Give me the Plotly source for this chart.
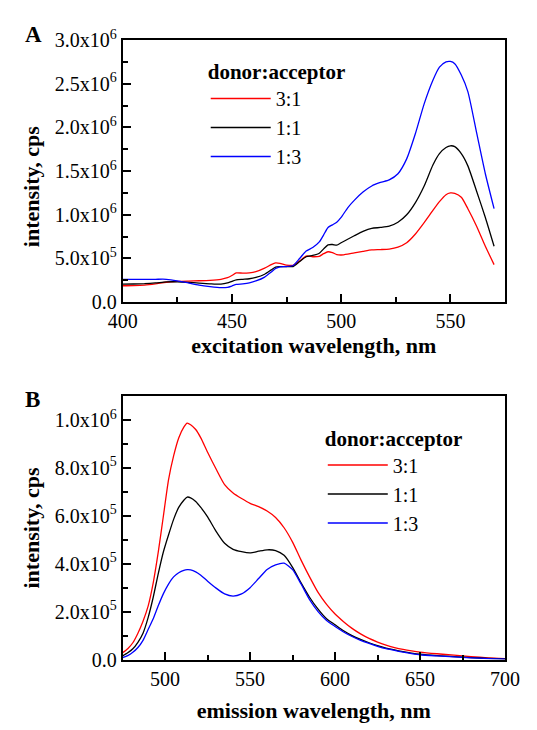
import plotly.graph_objects as go

# ---------------- Panel A: excitation spectra ----------------
wl_exc = [400, 405, 410, 415, 420, 425, 430, 435, 440, 445, 448, 450, 452, 455, 458, 461,
          465, 468, 470, 472, 475, 478, 481, 484, 487, 490, 492, 494, 496, 498, 500, 503,
          506, 510, 514, 518, 522, 526, 530, 534, 538, 542, 545, 548, 550, 552, 555, 558,
          562, 566, 570]

exc_3to1 = [0.188, 0.19, 0.196, 0.21, 0.228, 0.238, 0.242, 0.245, 0.25, 0.262, 0.28, 0.305,
            0.335, 0.332, 0.336, 0.35, 0.39, 0.43, 0.45, 0.445, 0.425, 0.422, 0.47, 0.528,
            0.52, 0.525, 0.555, 0.577, 0.567, 0.545, 0.54, 0.55, 0.565, 0.582, 0.598, 0.602,
            0.608, 0.63, 0.68, 0.78, 0.91, 1.05, 1.15, 1.23, 1.25, 1.245, 1.2, 1.07, 0.87,
            0.64, 0.43]  # x1e6 cps

exc_1to1 = [0.206, 0.208, 0.212, 0.22, 0.232, 0.233, 0.227, 0.218, 0.21, 0.206, 0.22, 0.239,
            0.256, 0.262, 0.268, 0.283, 0.32, 0.37, 0.402, 0.407, 0.408, 0.408, 0.465, 0.52,
            0.535, 0.56, 0.61, 0.656, 0.66, 0.652, 0.68, 0.72, 0.76, 0.81, 0.845, 0.855,
            0.87, 0.915, 1.0, 1.14, 1.33, 1.57, 1.7, 1.77, 1.79, 1.78, 1.7, 1.56, 1.27,
            0.97, 0.64]

exc_1to3 = [0.262, 0.262, 0.262, 0.262, 0.262, 0.245, 0.22, 0.195, 0.178, 0.166, 0.17, 0.185,
            0.203, 0.21, 0.222, 0.243, 0.287, 0.345, 0.385, 0.405, 0.408, 0.42, 0.5, 0.585,
            0.625, 0.69, 0.77, 0.855, 0.885, 0.915, 0.97, 1.08, 1.165, 1.26, 1.33, 1.37,
            1.4, 1.47, 1.64, 1.93, 2.27, 2.54, 2.69, 2.75, 2.755, 2.73, 2.6, 2.41, 1.94,
            1.47, 1.07]

# ---------------- Panel B: emission spectra ----------------
wl_em = [475, 478, 481, 484, 487, 490, 493, 496, 499, 502, 505, 508, 511, 513, 515, 518, 521,
         525, 530, 535, 540, 545, 550, 555, 560, 565, 570, 575, 580, 585, 590, 595, 600, 605,
         610, 615, 620, 625, 630, 635, 640, 645, 650, 660, 670, 680, 690, 700]

em_3to1 = [0.28, 0.45, 0.7, 1.1, 1.6, 2.23, 3.2, 4.5, 6.0, 7.5, 8.5, 9.25, 9.7, 9.87, 9.8,
           9.6, 9.25, 8.65, 7.95, 7.3, 6.95, 6.72, 6.52, 6.38, 6.2, 5.93, 5.5, 4.9, 4.15,
           3.45, 2.8, 2.3, 1.9, 1.58, 1.3, 1.07, 0.88, 0.73, 0.6, 0.5, 0.42, 0.36, 0.31,
           0.24, 0.18, 0.12, 0.07, 0.04]  # x1e5 cps

em_1to1 = [0.15, 0.28, 0.45, 0.72, 1.1, 1.75, 2.6, 3.6, 4.5, 5.2, 5.85, 6.35, 6.65, 6.78,
           6.75, 6.6, 6.35, 5.95, 5.35, 4.85, 4.6, 4.5, 4.45, 4.52, 4.58, 4.55, 4.35, 3.85,
           3.2, 2.6, 2.1, 1.7, 1.45, 1.2, 1.0, 0.84, 0.7, 0.58, 0.48, 0.4, 0.33, 0.27,
           0.22, 0.16, 0.12, 0.08, 0.05, 0.03]

em_1to3 = [0.08, 0.16, 0.3, 0.5, 0.8, 1.25, 1.7, 2.25, 2.75, 3.15, 3.45, 3.62, 3.72, 3.75,
           3.74, 3.66, 3.52, 3.27, 2.98, 2.74, 2.65, 2.74, 3.0, 3.38, 3.76, 3.95, 4.02, 3.75,
           3.15, 2.5, 2.0, 1.63, 1.38, 1.15, 0.96, 0.8, 0.67, 0.55, 0.45, 0.38, 0.31, 0.25,
           0.2, 0.15, 0.11, 0.07, 0.04, 0.02]

series_names = ["3:1", "1:1", "1:3"]
series_colors = ["#ff0000", "#000000", "#0000ff"]

ytickvals_a = [0, 0.5e6, 1.0e6, 1.5e6, 2.0e6, 2.5e6, 3.0e6]
yticktext_a = ["0.0", "5.0x10<sup>5</sup>", "1.0x10<sup>6</sup>", "1.5x10<sup>6</sup>",
               "2.0x10<sup>6</sup>", "2.5x10<sup>6</sup>", "3.0x10<sup>6</sup>"]
ytickvals_b = [0, 2e5, 4e5, 6e5, 8e5, 1e6]
yticktext_b = ["0.0", "2.0x10<sup>5</sup>", "4.0x10<sup>5</sup>", "6.0x10<sup>5</sup>",
               "8.0x10<sup>5</sup>", "1.0x10<sup>6</sup>"]

FONT = "Liberation Serif, Times New Roman, Times, DejaVu Serif, serif"

fig = go.Figure()
for name, color, vals in zip(series_names, series_colors, [exc_3to1, exc_1to1, exc_1to3]):
    fig.add_trace(go.Scatter(x=wl_exc, y=[v * 1e6 for v in vals], mode="lines", name=name,
                             line=dict(color=color, width=1.3, shape="spline", smoothing=0.6),
                             xaxis="x", yaxis="y", legend="legend"))
for name, color, vals in zip(series_names, series_colors, [em_3to1, em_1to1, em_1to3]):
    fig.add_trace(go.Scatter(x=wl_em, y=[v * 1e5 for v in vals], mode="lines", name=name,
                             line=dict(color=color, width=1.3, shape="spline", smoothing=0.6),
                             xaxis="x2", yaxis="y2", legend="legend2"))

W, H = 537, 730
x0, x1 = 114 / W, 519 / W

def axis_common():
    return dict(showline=True, linecolor="black", linewidth=2, mirror=True,
                ticks="inside", ticklen=8, tickwidth=2, tickcolor="black",
                showgrid=False, zeroline=False,
                tickfont=dict(family=FONT, size=20, color="black"),
                minor=dict(ticks="inside", ticklen=5, tickwidth=2, tickcolor="black"))

xa = axis_common()
xa.update(domain=[x0, x1], range=[400, 575], tickvals=[400, 450, 500, 550], anchor="y",
          title=dict(text="<b>excitation wavelength, nm</b>", font=dict(family=FONT, size=22, color="black"), standoff=6))
xa["minor"]["dtick"] = 25
xa["minor"]["tick0"] = 400
ya = axis_common()
ya.update(domain=[(H - 299) / H, (H - 28) / H], range=[0, 3.0e6], tickvals=ytickvals_a,
          ticktext=yticktext_a, anchor="x")
ya["minor"]["dtick"] = 0.25e6
ya["minor"]["tick0"] = 0

xb = axis_common()
xb.update(domain=[x0, x1], range=[475, 700], tickvals=[500, 550, 600, 650, 700], anchor="y2",
          title=dict(text="<b>emission wavelength, nm</b>", font=dict(family=FONT, size=22, color="black"), standoff=14))
xb["minor"]["dtick"] = 25
xb["minor"]["tick0"] = 475
yb = axis_common()
yb.update(domain=[(H - 668.5) / H, (H - 396) / H], range=[0, 1.1e6], tickvals=ytickvals_b,
          ticktext=yticktext_b, anchor="x2")
yb["minor"]["dtick"] = 1e5
yb["minor"]["tick0"] = 0

legend_common = dict(font=dict(family=FONT, size=20, color="black"), bgcolor="rgba(0,0,0,0)",
                     borderwidth=0, xanchor="left", yanchor="top", itemwidth=60,
                     title=dict(text="<b>donor:acceptor</b>", font=dict(family=FONT, size=21, color="black")))
leg_a = dict(legend_common, x=202 / W, y=1 - 40 / H)
leg_b = dict(legend_common, x=326 / W, y=1 - 419 / H)

title_font = dict(family=FONT, size=22, color="black")
fig.update_layout(
    width=W, height=H, margin=dict(l=0, r=0, t=0, b=0),
    paper_bgcolor="white", plot_bgcolor="white",
    font=dict(family=FONT, size=20, color="black"),
    xaxis=xa, yaxis=ya, xaxis2=xb, yaxis2=yb,
    legend=leg_a, legend2=leg_b,
    annotations=[
        dict(text="<b>A</b>", x=9 / W, y=1 - 22 / H, xref="paper", yref="paper", xanchor="left",
             yanchor="middle", showarrow=False, font=dict(family=FONT, size=23, color="black")),
        dict(text="<b>B</b>", x=9 / W, y=1 - 400 / H, xref="paper", yref="paper", xanchor="left",
             yanchor="middle", showarrow=False, font=dict(family=FONT, size=23, color="black")),
        dict(text="<b>intensity, cps</b>", x=17 / W, y=1 - 180 / H, xref="paper", yref="paper",
             xanchor="center", yanchor="middle", textangle=-90, showarrow=False, font=title_font),
        dict(text="<b>intensity, cps</b>", x=17 / W, y=1 - 533 / H, xref="paper", yref="paper",
             xanchor="center", yanchor="middle", textangle=-90, showarrow=False, font=title_font),
    ],
)

fig.write_html("out.html", config={"displayModeBar": False},
               post_script="document.body.style.margin='0px';document.body.style.overflow='hidden';")
